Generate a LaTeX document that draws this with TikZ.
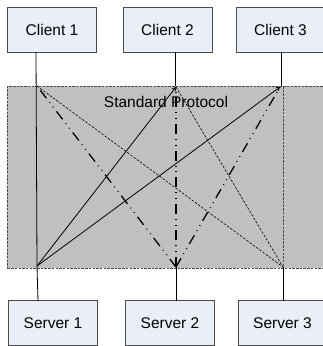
\documentclass[tikz,border=0pt]{standalone}
\usepackage{fontspec}
\setmainfont{Liberation Sans}
\usetikzlibrary{arrows.meta}
\definecolor{boxfill}{HTML}{E9EEF7}
\definecolor{boxline}{HTML}{4A4A4A}
\definecolor{protofill}{HTML}{C0C0C0}
\definecolor{protoline}{HTML}{4A4A4A}
\tikzset{
  hostbox/.style={draw=boxline, fill=boxfill, line width=0.9pt, minimum width=89pt, minimum height=45pt, inner sep=0pt, font=\fontsize{15.5}{18}\selectfont},
  stem/.style={draw=black, line width=0.8pt},
  solidlink/.style={draw=black, line width=0.8pt},
  finelink/.style={draw=black, line width=0.6pt, dash pattern=on 2.5pt off 1.5pt},
  dashdotlink/.style={draw=black, line width=1.3pt, dash pattern=on 10pt off 5pt on 0.8pt off 5pt on 0.8pt off 5pt},
  tip/.style={-{Straight Barb[length=3pt,width=4pt]}},
}
\begin{document}
\begin{tikzpicture}[x=1pt,y=-1pt]
\useasboundingbox (0,0) rectangle (323,346);
\clip (0,0) rectangle (323,346);
% protocol region
\node[draw=protoline, fill=protofill, dash pattern=on 2.5pt off 1.2pt, line width=0.9pt, minimum width=333pt, minimum height=182pt, inner sep=0pt, anchor=north west] (proto) at (7,86) {};
\node[font=\fontsize{15.5}{18}\selectfont] (ptext) at (166,102) {Standard Protocol};
\coordinate (dtop) at (283,86);
\coordinate (dbot) at (283,268);
\draw[draw=protoline, dash pattern=on 2.5pt off 1.2pt, line width=0.9pt] (dtop) -- (dbot);
% hosts
\node[hostbox] (client1) at (52,29.5) {Client 1};
\node[hostbox] (client2) at (167.5,29.5) {Client 2};
\node[hostbox] (client3) at (280.5,29.5) {Client 3};
\node[hostbox] (server1) at (53,323) {Server 1};
\node[hostbox] (server2) at (170,323) {Server 2};
\node[hostbox] (server3) at (282.5,323) {Server 3};
% anchor points
\coordinate (A1) at (37,86);
\coordinate (A2) at (176,87);
\coordinate (A3) at (280,87);
\coordinate (B1) at (37,266);
\coordinate (B2) at (176,267);
\coordinate (B3) at (283,267);
\coordinate (c1s) at (36,52);
\coordinate (c2s) at (175,52);
\coordinate (c3s) at (281,52);
\coordinate (c2e) at (175,86);
\coordinate (c3e) at (281,86);
\coordinate (s1n) at (38,301);
\coordinate (s2n) at (176,301);
\coordinate (s3n) at (283,301);
% stems
\draw[stem] (c1s) -- (B1);
\draw[stem] (c2s) -- (c2e);
\draw[stem] (c3s) -- (c3e);
\draw[stem] (B1) -- (s1n);
\draw[stem] (B2) -- (s2n);
\draw[stem] (B3) -- (s3n);
% links
\draw[solidlink, tip] (B1) -- (A2);
\draw[solidlink, tip] (B1) -- (A3);
\draw[finelink] (A1) -- (B3);
\draw[finelink] (A2) -- (B3);
\draw[dashdotlink] (B2) -- (A1);
\draw[dashdotlink] (B2) -- (A2);
\draw[dashdotlink] (B2) -- (A3);
\end{tikzpicture}
\end{document}
